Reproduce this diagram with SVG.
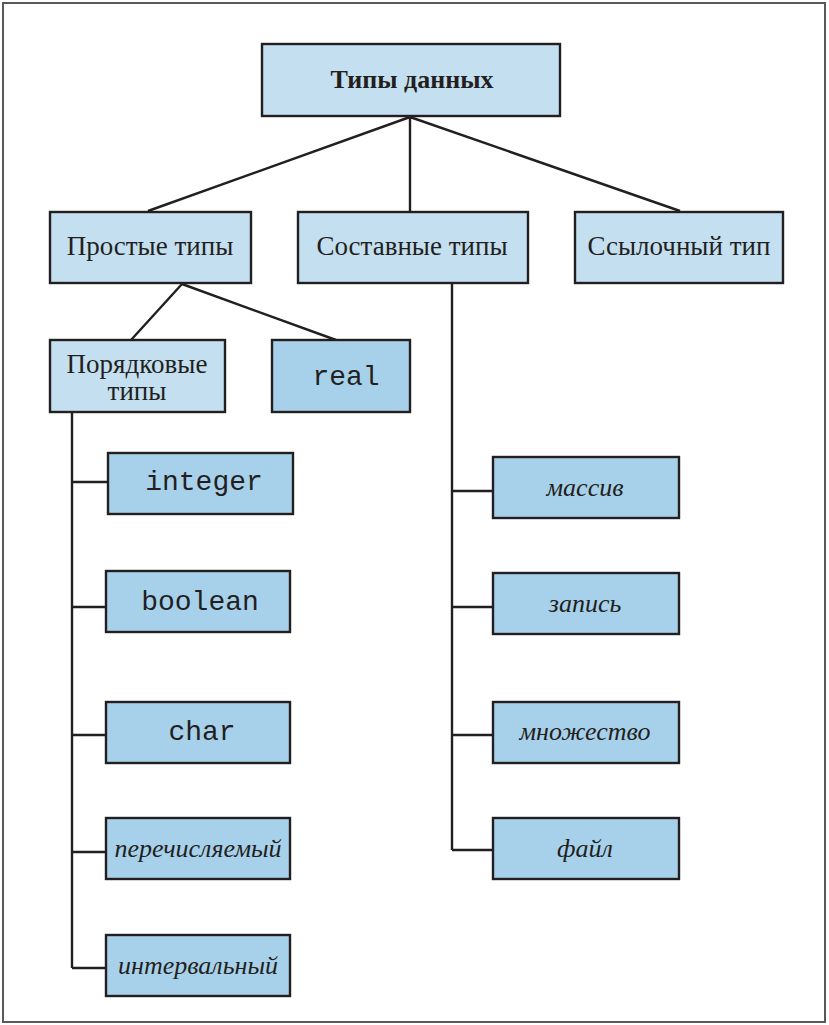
<svg xmlns="http://www.w3.org/2000/svg" width="829" height="1025" viewBox="0 0 829 1025">
<style>
.frame{fill:#fff;stroke:#58595b;stroke-width:2}
.b1{fill:#c3dff0;stroke:#231f20;stroke-width:2.4}
.b2{fill:#a7d1eb;stroke:#231f20;stroke-width:2.4}
.c{fill:none;stroke:#231f20;stroke-width:2.4}
.t{font-family:"Liberation Serif",serif;font-size:27px;fill:#231f20;text-anchor:middle}
.tb{font-weight:bold;font-size:26px}
.m{font-family:"Liberation Mono",monospace;font-size:28px;fill:#231f20;text-anchor:middle}
.i{font-family:"Liberation Serif",serif;font-style:italic;font-size:26px;fill:#231f20;text-anchor:middle}
</style>
<rect class="frame" x="3" y="3" width="822" height="1019"/>
<g id="connectors">
<path class="c" d="M410,117 L148,211 M410,117 L410,211 M410,117 L680,211"/>
<path class="c" d="M182,284 L131,340 M182,284 L336,340"/>
<path class="c" d="M72,413 L72,968 M72,482 L108,482 M72,607 L106,607 M72,735 L106,735 M72,852 L106,852 M72,968 L106,968"/>
<path class="c" d="M452,284 L452,850 M452,491 L493,491 M452,607 L493,607 M452,735 L493,735 M452,850 L493,850"/>
</g>
<g id="n-root"><rect class="b1" x="262" y="44" width="298" height="72"/><text class="t tb" x="412" y="88">Типы данных</text></g>
<g id="n-simple"><rect class="b1" x="50" y="212" width="201" height="71"/><text class="t" x="150" y="255">Простые типы</text></g>
<g id="n-compound"><rect class="b1" x="298" y="212" width="230" height="71"/><text class="t" x="412" y="255">Составные типы</text></g>
<g id="n-ref"><rect class="b1" x="575" y="212" width="208" height="71"/><text class="t" x="679" y="255">Ссылочный тип</text></g>
<g id="n-ordinal"><rect class="b1" x="50" y="340" width="175" height="72"/><text class="t" x="137" y="373">Порядковые</text><text class="t" x="137" y="400">типы</text></g>
<g id="n-real"><rect class="b2" x="272" y="340" width="138" height="72"/><text class="m" x="346" y="385">real</text></g>
<g id="n-integer"><rect class="b2" x="108" y="453" width="185" height="61"/><text class="m" x="204" y="490">integer</text></g>
<g id="n-boolean"><rect class="b2" x="106" y="571" width="184" height="61"/><text class="m" x="200" y="610">boolean</text></g>
<g id="n-char"><rect class="b2" x="106" y="702" width="184" height="61"/><text class="m" x="202" y="740">char</text></g>
<g id="n-enum"><rect class="b2" x="106" y="818" width="184" height="61"/><text class="i" x="198" y="857">перечисляемый</text></g>
<g id="n-interval"><rect class="b2" x="106" y="935" width="184" height="61"/><text class="i" x="198" y="974">интервальный</text></g>
<g id="n-array"><rect class="b2" x="493" y="457" width="186" height="61"/><text class="i" x="585" y="496">массив</text></g>
<g id="n-record"><rect class="b2" x="493" y="573" width="186" height="61"/><text class="i" x="585" y="612">запись</text></g>
<g id="n-set"><rect class="b2" x="493" y="702" width="186" height="61"/><text class="i" x="585" y="740">множество</text></g>
<g id="n-file"><rect class="b2" x="493" y="818" width="186" height="61"/><text class="i" x="585" y="857">файл</text></g>
</svg>
